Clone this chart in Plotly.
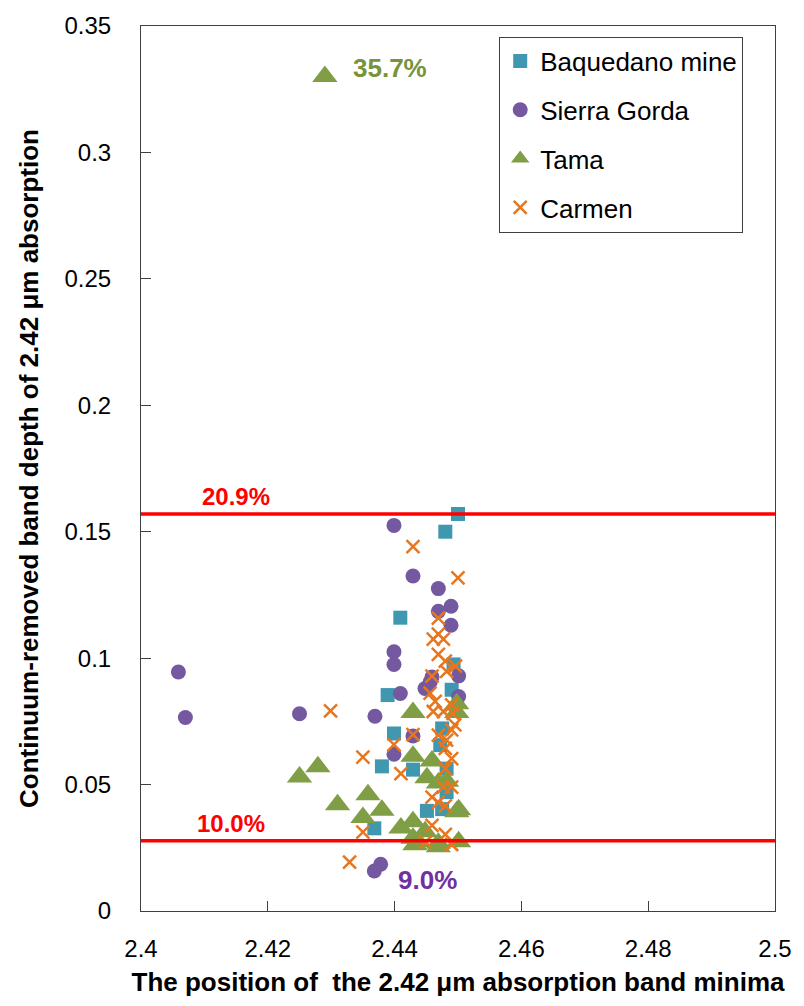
import plotly.graph_objects as go

# ---- data ----
baq_x = [2.4500, 2.4480, 2.4409, 2.4493, 2.4490, 2.4389, 2.4475, 2.4399, 2.4472, 2.4380,
         2.4429, 2.4482, 2.4482, 2.4451, 2.4475, 2.4368]
baq_y = [0.157, 0.150, 0.116, 0.0975, 0.0875, 0.0854, 0.0722, 0.0702, 0.0656, 0.0572,
         0.0559, 0.0563, 0.047, 0.0396, 0.0403, 0.0327]

sg_x = [2.4059, 2.4070, 2.4250, 2.4369, 2.4399, 2.4429, 2.4469, 2.4489, 2.4469, 2.4489,
        2.4399, 2.4399, 2.4501, 2.4459, 2.4448, 2.4409, 2.4501, 2.4429, 2.4399, 2.4368,
        2.4378, 2.4456]
sg_y = [0.0945, 0.0765, 0.0780, 0.0770, 0.1525, 0.1325, 0.1275, 0.1205, 0.1185, 0.1130,
        0.1025, 0.0975, 0.0930, 0.0925, 0.0880, 0.0860, 0.0848, 0.0692, 0.0620, 0.0158,
        0.0185, 0.0905]

tama_x = [2.4290, 2.4250, 2.4279, 2.4310, 2.4358, 2.4350, 2.4380, 2.4410, 2.4429, 2.4429,
          2.4429, 2.4429, 2.4432, 2.4459, 2.4451, 2.4469, 2.4498, 2.4501, 2.4498, 2.4469,
          2.4501, 2.4437, 2.4469, 2.4448, 2.4498, 2.4482]
tama_y = [0.3300, 0.0530, 0.0570, 0.0420, 0.0460, 0.0370, 0.0398, 0.0328, 0.0785, 0.0612,
          0.0353, 0.0288, 0.0262, 0.0593, 0.0527, 0.0506, 0.0785, 0.0400, 0.0393, 0.0268,
          0.0274, 0.0274, 0.0254, 0.0313, 0.0820, 0.0513]

car_x = [2.4429, 2.4500, 2.4469, 2.4461, 2.4477, 2.4469, 2.4469, 2.4480, 2.4496, 2.4482,
         2.4459, 2.4299, 2.4399, 2.4429, 2.4350, 2.4410, 2.4350, 2.4329, 2.4449, 2.4480,
         2.4490, 2.4459, 2.4469, 2.4482, 2.4495, 2.4490, 2.4480, 2.4490, 2.4480, 2.4477,
         2.4490, 2.4459, 2.4469, 2.4480, 2.4461, 2.4477, 2.4492, 2.4456, 2.4464, 2.4490]
car_y = [0.1441, 0.1317, 0.1158, 0.1075, 0.1075, 0.1095, 0.1015, 0.0988, 0.0968, 0.0948,
         0.0929, 0.0791, 0.0658, 0.0698, 0.0609, 0.0543, 0.0312, 0.0193, 0.0273, 0.0303,
         0.0263, 0.0339, 0.0696, 0.0676, 0.0736, 0.0716, 0.0643, 0.0603, 0.0563, 0.0490,
         0.0490, 0.0450, 0.0430, 0.0416, 0.0789, 0.0789, 0.0782, 0.0862, 0.0829, 0.0815]

thresholds = [0.157, 0.0278]
threshold_labels = ["20.9%", "10.0%"]
threshold_label_x = [2.4150, 2.4142]

note_texts = ["35.7%", "9.0%"]
note_x = [2.4392, 2.4452]
note_y = [0.3335, 0.0122]
note_colors = ["#77933C", "#7030A0"]

FONT = "Liberation Sans, Arial, sans-serif"

fig = go.Figure()

fig.add_trace(go.Scatter(x=baq_x, y=baq_y, mode="markers", name="Baquedano mine",
                         legendgroup="a",
                         marker=dict(symbol="square", size=14, color="#3F98AF",
                                     line=dict(width=0))))
fig.add_trace(go.Scatter(x=sg_x, y=sg_y, mode="markers", name="Sierra Gorda",
                         legendgroup="b",
                         marker=dict(symbol="circle", size=15, color="#7458A0",
                                     line=dict(width=0))))
fig.add_trace(go.Scatter(x=tama_x, y=tama_y, mode="markers", name="Tama",
                         legendgroup="c",
                         marker=dict(symbol="triangle-up", size=22, color="#7F9E45",
                                     line=dict(width=0))))
fig.add_trace(go.Scatter(x=car_x, y=car_y, mode="markers", name="Carmen",
                         legendgroup="d",
                         marker=dict(symbol="x-thin", size=13, color="#E8761E",
                                     line=dict(width=2.5, color="#E8761E"))))

for t in thresholds:
    fig.add_trace(go.Scatter(x=[2.4, 2.5], y=[t, t], mode="lines", showlegend=False,
                             line=dict(color="#FF0000", width=3.5), hoverinfo="skip"))

for t, lab, lx in zip(thresholds, threshold_labels, threshold_label_x):
    fig.add_annotation(x=lx, y=t, text=lab, showarrow=False, yanchor="bottom", yshift=2,
                       font=dict(family=FONT, size=24, color="#FF0000", weight="bold"))

for txt, nx, ny, nc in zip(note_texts, note_x, note_y, note_colors):
    fig.add_annotation(x=nx, y=ny, text=txt, showarrow=False,
                       font=dict(family=FONT, size=26, color=nc, weight="bold"))

fig.update_layout(
    width=804, height=1006,
    margin=dict(l=141, r=22, t=25, b=95),
    paper_bgcolor="white", plot_bgcolor="white",
    font=dict(family=FONT, size=24, color="black"),
    showlegend=True,
    legend=dict(x=0.565, y=0.988, xanchor="left", yanchor="top",
                bordercolor="#404040", borderwidth=1, bgcolor="white",
                font=dict(family=FONT, size=26, color="black"),
                tracegroupgap=12, traceorder="grouped"),
    xaxis=dict(range=[2.4, 2.5], dtick=0.02, tick0=2.4, showgrid=False, zeroline=False,
               showline=True, linecolor="#404040", linewidth=1, mirror=True,
               ticks="inside", ticklen=10, tickcolor="#404040",
               tickfont=dict(family=FONT, size=24), ticklabelstandoff=16,
               title=dict(text="The position of  the 2.42 μm absorption band minima",
                          font=dict(family=FONT, size=26, weight="bold"), standoff=12)),
    yaxis=dict(range=[0, 0.35], dtick=0.05, tick0=0, showgrid=False, zeroline=False,
               showline=True, linecolor="#404040", linewidth=1, mirror=True,
               ticks="inside", ticklen=10, tickcolor="#404040",
               tickfont=dict(family=FONT, size=24), ticklabelstandoff=24,
               title=dict(text="Continuum-removed band depth of 2.42 μm absorption",
                          font=dict(family=FONT, size=26, weight="bold"), standoff=18)),
)

fig.write_html("out.html")
